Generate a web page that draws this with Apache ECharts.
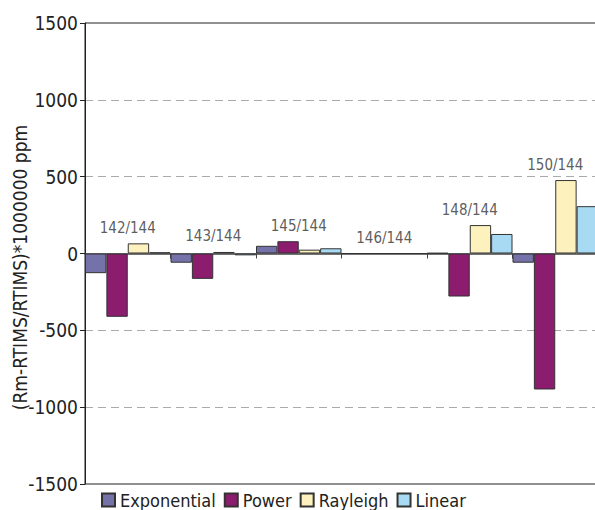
<!DOCTYPE html>
<html>
<head>
<meta charset="utf-8">
<script src="https://cdn.jsdelivr.net/npm/echarts@6/dist/echarts.min.js"></script>
<style>
  html, body { margin: 0; padding: 0; background: #fff; }
  #chart { width: 595px; height: 510px; }
  #chart text { font-stretch: condensed !important; }
</style>
</head>
<body>
<div id="chart"></div>
<script>
// data
const categories = ['142/144', '143/144', '145/144', '146/144', '148/144', '150/144'];
const exponential = [-128, -60, 50, 0, 3, -60];
const power = [-412, -165, 80, 0, -280, -885];
const rayleigh = [66, 10, 25, 0, 185, 478];
const linear = [8, -12, 34, 0, 127, 308];
const yTicks = [-1500, -1000, -500, 0, 500, 1000, 1500];

const font = "'Liberation Sans Narrow', 'DejaVu Sans Condensed', 'DejaVu Sans'";

// group labels sit above the highest bar of each group
const groupTop = categories.map((c, i) =>
  Math.max(0, exponential[i], power[i], rayleigh[i], linear[i]));

const barSeries = (name, data, color) => ({
  name: name,
  type: 'bar',
  data: data,
  barGap: 0,
  barCategoryGap: 0,
  itemStyle: {
    color: color,
    borderColor: '#333',
    borderWidth: 1
  }
});

const chart = echarts.init(document.getElementById('chart'), null, { renderer: 'svg' });
chart.setOption({
  animation: false,
  textStyle: { fontFamily: font },
  grid: {
    left: 85,
    top: 23,
    width: 513,
    height: 461,
    outerBoundsMode: 'none',
    containLabel: false,
    show: true,
    borderColor: '#222',
    borderWidth: 1
  },
  legend: {
    data: ['Exponential', 'Power', 'Rayleigh', 'Linear'],
    left: 96,
    top: 486,
    itemWidth: 13,
    itemHeight: 13,
    itemGap: 8,
    icon: 'rect',
    textStyle: { fontFamily: font, fontSize: 18, color: '#222' }
  },
  xAxis: {
    type: 'category',
    data: categories,
    axisLine: { lineStyle: { color: '#444', width: 1.5 } },
    axisTick: { show: true, length: 5, lineStyle: { color: '#444' } },
    axisLabel: { show: false },
    splitLine: { show: false }
  },
  yAxis: {
    type: 'value',
    min: yTicks[0],
    max: yTicks[yTicks.length - 1],
    interval: 500,
    name: '(Rm-RTIMS/RTIMS)*1000000 ppm',
    nameLocation: 'middle',
    nameGap: 56,
    nameMoveOverlap: false,
    nameTextStyle: { fontFamily: font, fontSize: 19, color: '#222', padding: [0, 28, 0, 0] },
    axisLine: { show: true, lineStyle: { color: '#222', width: 1 } },
    axisTick: { show: true, length: 5, lineStyle: { color: '#222' } },
    axisLabel: {
      fontFamily: font, fontSize: 19, color: '#222', margin: 7,
      formatter: v => String(v)
    },
    splitLine: {
      show: true,
      lineStyle: {
        type: [8, 5],
        color: ['rgba(0,0,0,0)', '#aaa', '#aaa', 'rgba(0,0,0,0)', '#aaa', '#aaa', 'rgba(0,0,0,0)']
      }
    }
  },
  series: [
    barSeries('Exponential', exponential, '#7571a9'),
    barSeries('Power', power, '#8b1c6e'),
    barSeries('Rayleigh', rayleigh, '#fdf1bd'),
    barSeries('Linear', linear, '#a8dbf3'),
    {
      name: 'groups',
      type: 'scatter',
      data: groupTop,
      symbolSize: 0,
      silent: true,
      label: {
        show: true,
        position: 'top',
        distance: 8,
        formatter: p => categories[p.dataIndex],
        fontFamily: font,
        fontSize: 15,
        color: '#333'
      }
    }
  ]
});
</script>
</body>
</html>
